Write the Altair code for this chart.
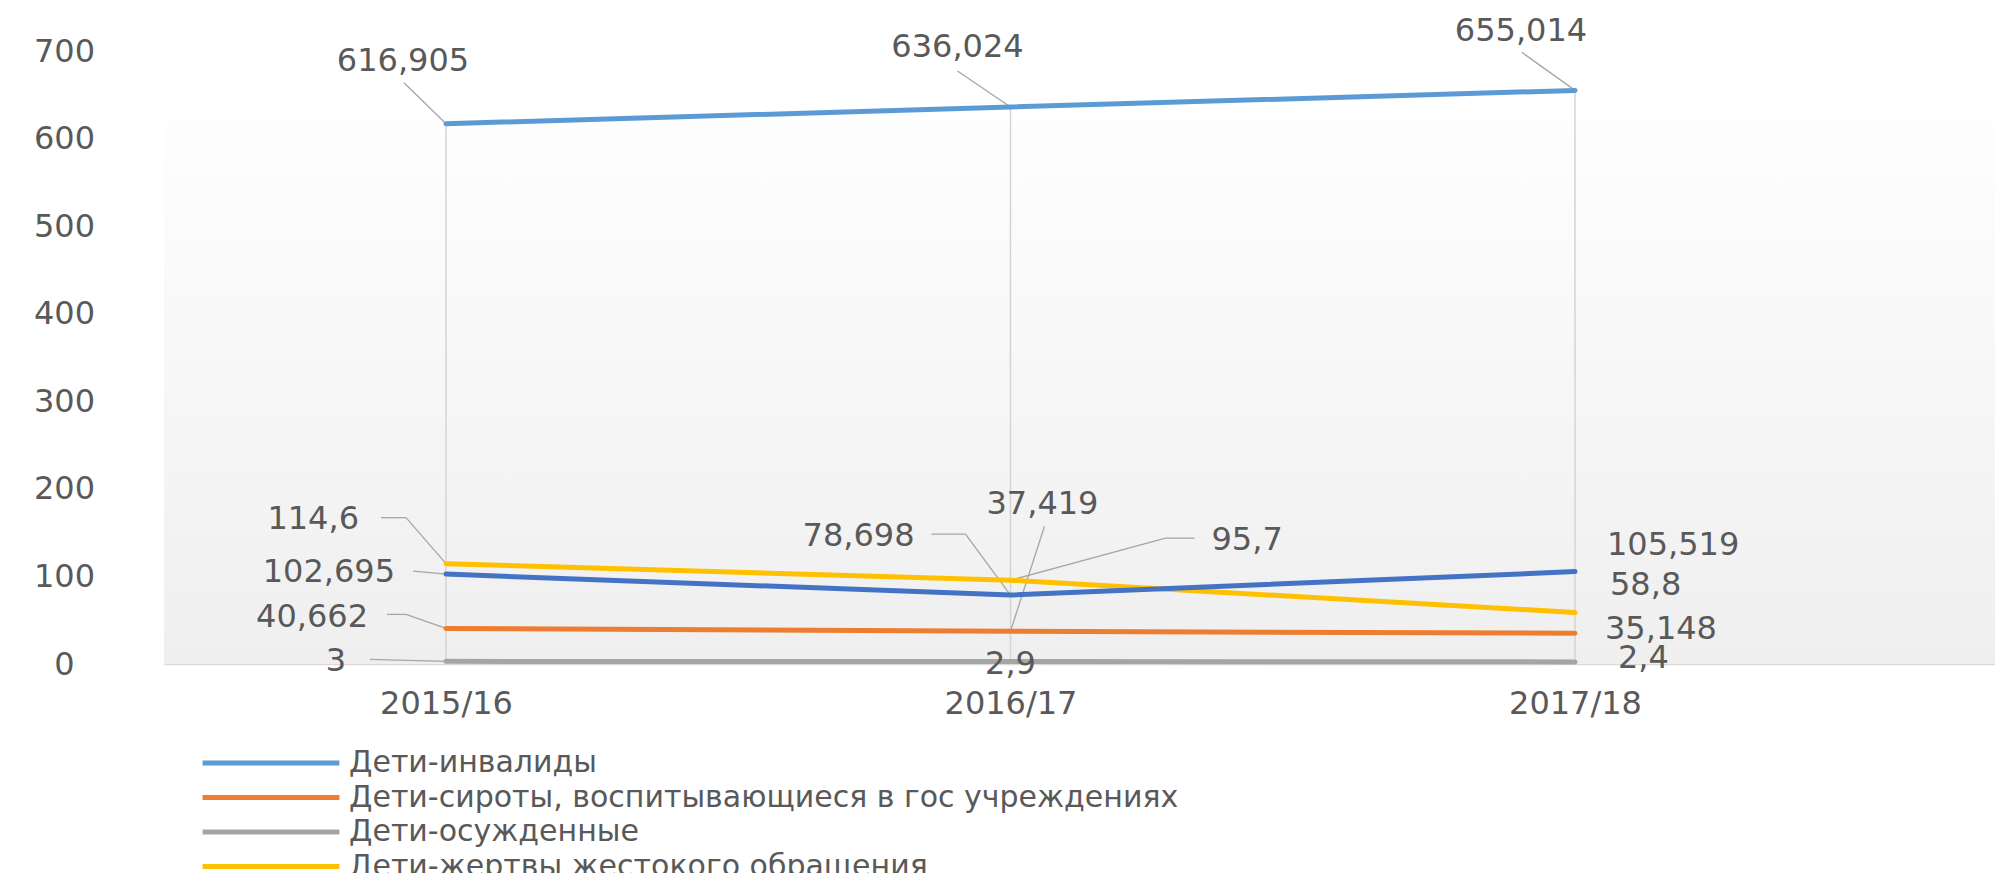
import altair as alt
import pandas as pd

categories = ["2015/16", "2016/17", "2017/18"]
series = [
    "Дети-инвалиды",
    "Дети-сироты, воспитывающиеся в гос учреждениях",
    "Дети-осужденные",
    "Дети-жертвы жестокого обращения",
    "Ряд 5",
]
invalids = [616.905, 636.024, 655.014]
orphans = [40.662, 37.419, 35.148]
convicted = [3, 2.9, 2.4]
abused = [114.6, 95.7, 58.8]
series5 = [102.695, 78.698, 105.519]
y_ticks = [0, 100, 200, 300, 400, 500, 600, 700]

colors = ["#5B9BD5", "#ED7D31", "#A5A5A5", "#FFC000", "#4472C4"]
TEXT = "#595959"
FONT = "DejaVu Sans"

rows = []
for si, vals in enumerate([invalids, orphans, convicted, abused, series5]):
    for ci, v in enumerate(vals):
        rows.append({"s": si, "c": ci, "series": series[si], "cat": categories[ci], "value": v})
df = pd.DataFrame(rows)

W, H = 1831, 613

x_enc = alt.X("cat:N", sort=categories,
              scale=alt.Scale(type="point", domain=categories, padding=0.6218, align=0.4017),
              axis=alt.Axis(title=None, labelAngle=0, ticks=False, tickSize=0, grid=False,
                            domainColor="#d9d9d9", domainWidth=1.5,
                            labelFontSize=32, labelColor=TEXT, labelPadding=24, labelFont=FONT))
y_scale = alt.Scale(domain=[0, 700], nice=False)
y_enc = alt.Y("value:Q", scale=y_scale,
              axis=alt.Axis(title=None, values=y_ticks, domain=False, ticks=False, tickSize=0,
                            grid=False, labelFontSize=32, labelColor=TEXT, labelAlign="center",
                            labelPadding=100, labelFont=FONT))

# background panel (style only)
bg = alt.Chart(pd.DataFrame({"a": [0]})).mark_rect(
    fill=alt.LinearGradient(
        gradient="linear", x1=0, x2=0, y1=0, y2=1,
        stops=[alt.GradientStop(color="#fefefe", offset=0),
               alt.GradientStop(color="#efefef", offset=1)]),
).encode(x=alt.value(0), x2=alt.value(W), y=alt.value(68), y2=alt.value(H))

base = alt.Chart(df)

drop = base.transform_aggregate(maxv="max(value)", groupby=["cat"]).mark_rule(
    color="#d4d4d4", strokeWidth=1.5
).encode(x=x_enc, y=alt.Y("maxv:Q", scale=y_scale), y2=alt.datum(0))

lines = base.mark_line(strokeWidth=5, strokeCap="round").encode(
    x=x_enc,
    y=y_enc,
    color=alt.Color("series:N",
                    scale=alt.Scale(domain=series, range=colors),
                    legend=alt.Legend(orient="none", legendX=149, legendY=697, title=None,
                                      values=series[:4], symbolType="M-11,0H1",
                                      symbolStrokeWidth=5, symbolSize=520,
                                      labelFontSize=30, labelColor=TEXT, labelFont=FONT,
                                      labelOffset=6, rowPadding=4.5, padding=0,
                                      labelLimit=3000)),
    detail="series:N",
)

# label styling: (series idx, category idx) -> (align, dx, dy, leader offsets)
label_style = {
    (0, 0): ("center", -43, -63, [(0, 0), (-42, -41)]),
    (0, 1): ("center", -53, -60, [(0, 0), (-53, -36)]),
    (0, 2): ("center", -54, -59, [(0, 0), (-53, -38)]),
    (3, 0): ("right", -87, -45, [(0, 0), (-40, -46), (-65, -46)]),
    (4, 0): ("right", -51, -2, [(0, 0), (-33, -3)]),
    (1, 0): ("right", -78, -11, [(0, 0), (-40, -14), (-59, -14)]),
    (2, 0): ("right", -100, 0, [(0, 0), (-76, -2)]),
    (4, 1): ("right", -96, -59, [(0, 0), (-45, -61), (-79, -61)]),
    (1, 1): ("center", 32, -127, [(0, 0), (34, -105)]),
    (3, 1): ("left", 201, -40, [(0, 0), (155, -42), (184, -42)]),
    (2, 1): ("center", 0, 3, []),
    (4, 2): ("left", 32, -27, []),
    (3, 2): ("left", 35, -28, []),
    (1, 2): ("left", 30, -4, []),
    (2, 2): ("left", 43, -4, []),
}

layers = [bg, drop]
label_layers = []
for (si, ci), (align, dx, dy, leader) in label_style.items():
    sub = base.transform_filter((alt.datum.s == si) & (alt.datum.c == ci))
    for p0, p1 in zip(leader[:-1], leader[1:]):
        layers.append(sub.mark_rule(
            color="#a6a6a6", strokeWidth=1.3,
            xOffset=p0[0], yOffset=p0[1], x2Offset=p1[0], y2Offset=p1[1],
        ).encode(x=x_enc, x2=alt.X2("cat:N"), y=y_enc, y2=alt.Y2("value:Q")))
    label_layers.append(sub.transform_calculate(
        lbl="replace(toString(datum.value), '.', ',')"
    ).mark_text(align=align, baseline="middle", dx=dx, dy=dy, fontSize=32,
                color=TEXT, font=FONT).encode(x=x_enc, y=y_enc, text="lbl:N"))

layers.append(lines)
layers.extend(label_layers)

chart = alt.layer(*layers).properties(
    width=W, height=H,
    padding={"left": 156, "top": 43, "right": 0, "bottom": 209},
    autosize=alt.AutoSizeParams(type="none"),
).configure(font=FONT).configure_view(stroke=None)

chart.save("out.html", embed_options={"renderer": "svg", "actions": False})
